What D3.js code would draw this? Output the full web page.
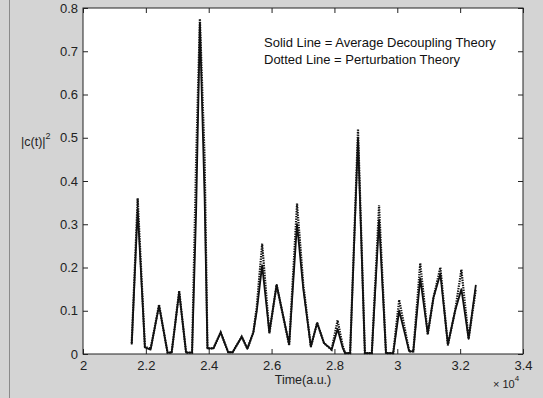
<!DOCTYPE html>
<html>
<head>
<meta charset="utf-8">
<script src="https://cdn.jsdelivr.net/npm/d3@7"></script>
<style>
  body { margin: 0; background: #d4d4d4; }
  svg { display: block; }
</style>
</head>
<body>
<div id="chart"></div>
<script>
// time axis in units of 10^4 a.u.
const times = [2.155, 2.174, 2.197, 2.215, 2.242, 2.269, 2.282, 2.306, 2.328, 2.347,
  2.360, 2.372, 2.387, 2.396, 2.415, 2.438, 2.462, 2.476, 2.505, 2.523,
  2.542, 2.553, 2.570, 2.593, 2.616, 2.656, 2.681, 2.701, 2.725, 2.745,
  2.767, 2.791, 2.810, 2.826, 2.834, 2.850, 2.875, 2.897, 2.919, 2.942,
  2.964, 2.987, 3.006, 3.038, 3.051, 3.073, 3.097, 3.115, 3.137, 3.161,
  3.184, 3.204, 3.227, 3.250];

// solid line = average decoupling theory
const solidValues = [0.022, 0.335, 0.015, 0.010, 0.112, 0.003, 0.003, 0.143, 0.003, 0.003,
  0.330, 0.765, 0.360, 0.013, 0.013, 0.050, 0.004, 0.004, 0.040, 0.012,
  0.050, 0.100, 0.205, 0.050, 0.160, 0.022, 0.300, 0.150, 0.017, 0.072,
  0.025, 0.010, 0.058, 0.015, 0.002, 0.002, 0.500, 0.002, 0.002, 0.310,
  0.002, 0.002, 0.100, 0.006, 0.006, 0.175, 0.047, 0.130, 0.185, 0.022,
  0.100, 0.150, 0.035, 0.160];

// dotted line = perturbation theory
const dottedValues = [0.025, 0.360, 0.017, 0.012, 0.114, 0.003, 0.003, 0.146, 0.003, 0.003,
  0.450, 0.775, 0.450, 0.013, 0.013, 0.050, 0.004, 0.004, 0.040, 0.012,
  0.050, 0.110, 0.255, 0.048, 0.160, 0.020, 0.348, 0.160, 0.017, 0.072,
  0.025, 0.010, 0.078, 0.020, 0.002, 0.002, 0.520, 0.002, 0.002, 0.344,
  0.002, 0.002, 0.125, 0.006, 0.006, 0.210, 0.045, 0.130, 0.200, 0.020,
  0.100, 0.195, 0.035, 0.150];

const xTicks = [2, 2.2, 2.4, 2.6, 2.8, 3, 3.2, 3.4];
const yTicks = [0, 0.1, 0.2, 0.3, 0.4, 0.5, 0.6, 0.7, 0.8];

const annotation = ["Solid Line = Average Decoupling Theory", "Dotted Line = Perturbation Theory"];

const width = 543, height = 398;
const margin = {top: 8, right: 20, bottom: 44, left: 83};

const svg = d3.select("#chart").append("svg")
    .attr("width", width)
    .attr("height", height)
    .attr("font-family", "'Liberation Sans', Arial, sans-serif");

svg.append("rect")
    .attr("width", width)
    .attr("height", height)
    .attr("fill", "#d4d4d4");

// window edge on the left
svg.append("line")
    .attr("x1", 9.5).attr("x2", 9.5)
    .attr("y1", 0).attr("y2", height)
    .attr("stroke", "#8a8a8a");

const x = d3.scaleLinear().domain([2, 3.4]).range([margin.left, width - margin.right]);
const y = d3.scaleLinear().domain([0, 0.8]).range([height - margin.bottom, margin.top]);

svg.append("rect")
    .attr("x", x(2)).attr("y", y(0.8))
    .attr("width", x(3.4) - x(2)).attr("height", y(0) - y(0.8))
    .attr("fill", "#fff");

const fmt = d => d3.format("")(+d.toFixed(1));

function styleAxis(g, showText) {
  g.select(".domain").remove();
  g.selectAll(".tick line").attr("stroke", "#222");
  g.selectAll(".tick text")
      .attr("fill", "#222")
      .attr("font-size", 13)
      .attr("font-family", "'Liberation Sans', Arial, sans-serif");
  if (!showText) g.selectAll(".tick text").remove();
}

svg.append("g")
    .attr("transform", `translate(0,${y(0)})`)
    .call(d3.axisBottom(x).tickValues(xTicks).tickSize(-5).tickPadding(7).tickFormat(fmt))
    .call(g => styleAxis(g, true));

svg.append("g")
    .attr("transform", `translate(0,${y(0.8)})`)
    .call(d3.axisTop(x).tickValues(xTicks).tickSize(-5))
    .call(g => styleAxis(g, false));

svg.append("g")
    .attr("transform", `translate(${x(2)},0)`)
    .call(d3.axisLeft(y).tickValues(yTicks).tickSize(-5).tickPadding(5).tickFormat(fmt))
    .call(g => styleAxis(g, true));

svg.append("g")
    .attr("transform", `translate(${x(3.4)},0)`)
    .call(d3.axisRight(y).tickValues(yTicks).tickSize(-5))
    .call(g => styleAxis(g, false));

// axes box
svg.append("rect")
    .attr("x", x(2)).attr("y", y(0.8))
    .attr("width", x(3.4) - x(2)).attr("height", y(0) - y(0.8))
    .attr("fill", "none")
    .attr("stroke", "#222");

const line = d3.line()
    .x(d => x(d[0]))
    .y(d => y(d[1]));

svg.append("path")
    .datum(times.map((t, i) => [t, solidValues[i]]))
    .attr("d", line)
    .attr("fill", "none")
    .attr("stroke", "#111")
    .attr("stroke-width", 1.8)
    .attr("stroke-linejoin", "round");

svg.append("path")
    .datum(times.map((t, i) => [t, dottedValues[i]]))
    .attr("d", line)
    .attr("fill", "none")
    .attr("stroke", "#111")
    .attr("stroke-width", 2.2)
    .attr("stroke-dasharray", "1.4,1.1");

// labels
svg.append("text")
    .attr("x", x(2.7)).attr("y", 384)
    .attr("text-anchor", "middle")
    .attr("font-size", 12.5)
    .attr("fill", "#222")
    .text("Time(a.u.)");

const exp = svg.append("text")
    .attr("x", 493).attr("y", 388)
    .attr("font-size", 11)
    .attr("fill", "#222");
exp.append("tspan").text("\u00d7 10");
exp.append("tspan").attr("dy", -7).attr("font-size", 8).text("4");

const yl = svg.append("text")
    .attr("x", 21).attr("y", 146)
    .attr("font-size", 12.5)
    .attr("fill", "#222");
yl.append("tspan").text("|c(t)|");
yl.append("tspan").attr("dy", -7).attr("font-size", 9).text("2");

svg.append("g")
    .selectAll("text")
    .data(annotation)
    .join("text")
    .attr("x", 264)
    .attr("y", (d, i) => 47 + i * 16.7)
    .attr("font-size", 13)
    .attr("fill", "#111")
    .text(d => d);
</script>
</body>
</html>
